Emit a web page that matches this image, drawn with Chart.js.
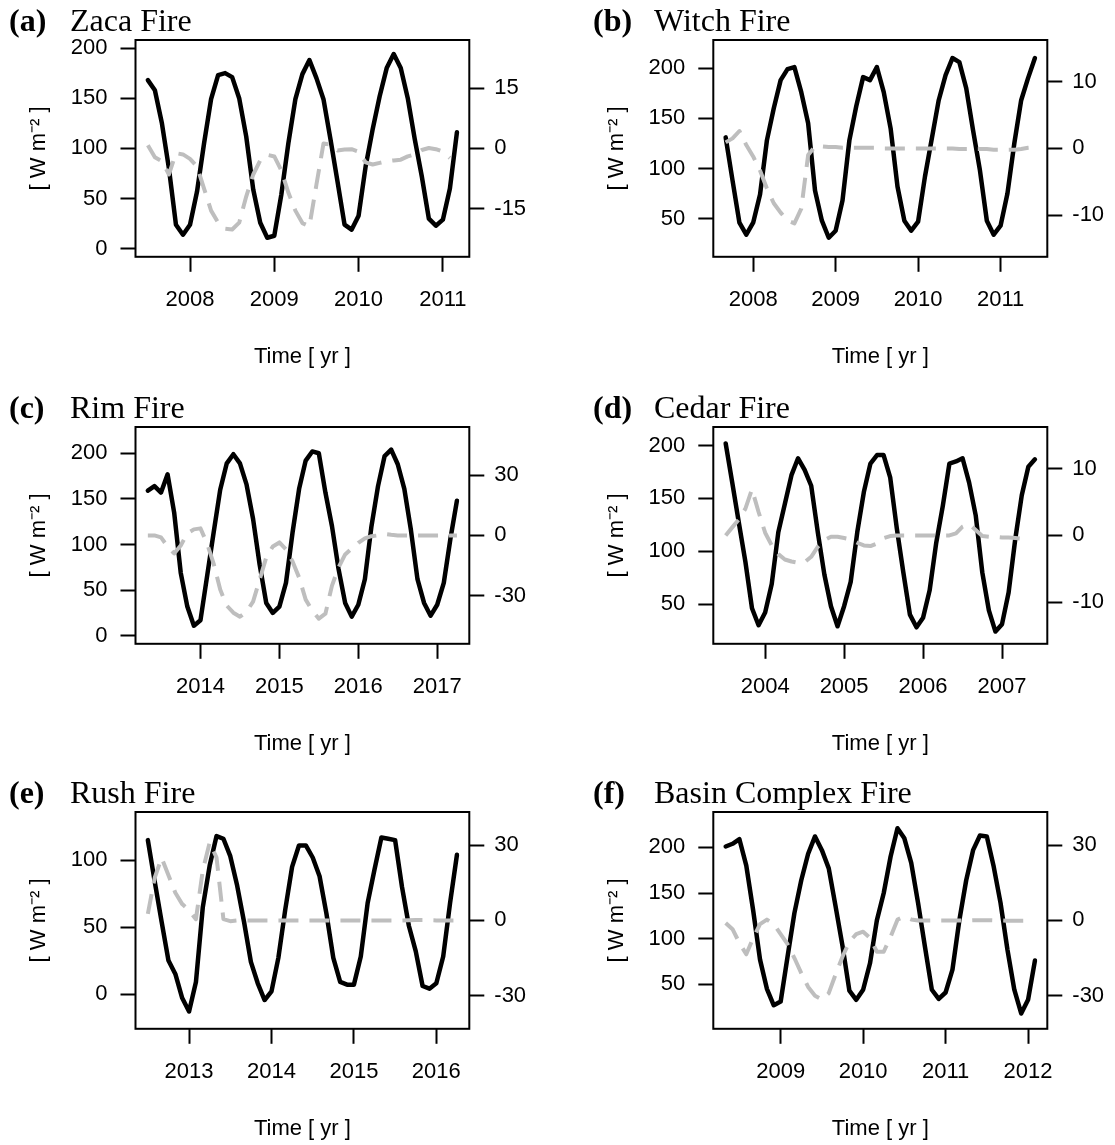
<!DOCTYPE html>
<html>
<head>
<meta charset="utf-8">
<title>Net radiation and forcing at six fire sites</title>
<script src="https://cdn.jsdelivr.net/npm/chart.js@4.4.0/dist/chart.umd.min.js"></script>
<style>
  body { margin: 0; background: #fff; }
  #figure { position: relative; width: 1115px; height: 1145px; background: #fff; overflow: hidden; }
  #figure canvas { position: absolute; }
</style>
</head>
<body>
<div id="figure">
  <canvas id="panelA" width="557" height="373" style="left:0px;top:0px"></canvas>
  <canvas id="panelB" width="558" height="373" style="left:557px;top:0px"></canvas>
  <canvas id="panelC" width="557" height="373" style="left:0px;top:387px"></canvas>
  <canvas id="panelD" width="558" height="373" style="left:557px;top:387px"></canvas>
  <canvas id="panelE" width="557" height="373" style="left:0px;top:772px"></canvas>
  <canvas id="panelF" width="558" height="373" style="left:557px;top:772px"></canvas>
</div>
<script>
// monthly series, first value at the start month (decimal year)
// black = flux [W m-2] on the left axis, grey = difference on the right axis

// (a) Zaca Fire, from Jul 2007
const zacaStart = 2007.5;
const zacaFlux = [168, 158, 125, 80, 24, 14, 24, 57, 105, 149, 173, 175, 171, 150, 112, 59, 26, 11, 13, 54, 105, 149, 174, 188, 170, 149, 109, 67, 24, 19, 33, 82, 119, 152, 180, 194, 180, 150, 109, 72, 30, 23, 29, 60, 116];
const zacaDelta = [0.8, -2.2, -3.2, -6.5, -1.2, -1.5, -2.6, -4.5, -10, -15.5, -18.5, -20, -20.2, -18.5, -12, -6.5, -3, -1.6, -2, -5.5, -11, -15.5, -18.6, -19.4, -9, 1.2, 1.0, -0.5, -0.3, -0.2, -0.8, -3.5, -4.0, -3.6, -3.2, -3.0, -2.8, -2.0, -1.5, -0.4, 0.1, -0.2, -0.8, -2.4];
const zacaFluxTicks = [0, 50, 100, 150, 200];
const zacaDeltaTicks = [-15, 0, 15];
const zacaYears = [2008, 2009, 2010, 2011];

// (b) Witch Fire, from Sep 2007
const witchStart = 2007 + 8 / 12;
const witchFlux = [131, 88, 46, 34, 46, 74, 128, 160, 188, 199, 201, 176, 145, 78, 48, 31, 38, 68, 128, 162, 191, 188, 201, 176, 140, 82, 48, 38, 47, 92, 130, 168, 193, 210, 206, 180, 138, 98, 48, 34, 43, 75, 125, 168, 190, 210];
const witchDelta = [0.9, 1.5, 2.6, 0.5, -1.2, -3.3, -6.0, -8.2, -9.6, -10.8, -11.2, -9.0, -1.0, 0.3, 0.3, 0.2, 0.2, 0.1, 0.1, 0.1, 0.1, 0.1, 0.1, 0, 0, 0, 0, 0, 0, 0, 0, 0, 0, 0, -0.1, -0.1, -0.1, -0.1, -0.1, -0.2, -0.2, -0.2, -0.2, -0.1, 0.1, 0.2];
const witchFluxTicks = [50, 100, 150, 200];
const witchDeltaTicks = [-10, 0, 10];
const witchYears = [2008, 2009, 2010, 2011];

// (c) Rim Fire, from May 2013
const rimStart = 2013 + 4 / 12;
const rimFlux = [159, 164, 157, 177, 135, 69, 32, 11, 17, 65, 113, 160, 189, 199, 189, 166, 128, 78, 36, 25, 32, 58, 113, 161, 192, 202, 200, 157, 120, 73, 36, 21, 34, 62, 120, 164, 197, 204, 188, 161, 116, 62, 36, 22, 34, 58, 106, 148];
const rimDelta = [0, 0, -1, -5.5, -9, -5, 1, 3, 3.5, -4, -14, -27, -35, -38.5, -40.5, -38, -33, -22, -11, -5.5, -3.5, -7, -13, -21, -32, -37.5, -41.5, -39, -25, -16, -9.5, -6.5, -3.7, -1.5, -0.4, 0, 0.7, 0.3, 0, 0, 0, 0, 0, 0, 0, 0, 0, 0];
const rimFluxTicks = [0, 50, 100, 150, 200];
const rimDeltaTicks = [-30, 0, 30];
const rimYears = [2014, 2015, 2016, 2017];

// (d) Cedar Fire, from Jul 2003
const cedarStart = 2003.5;
const cedarFlux = [202, 165, 127, 90, 46, 30, 42, 69, 118, 145, 172, 188, 177, 162, 118, 78, 48, 29, 48, 71, 118, 156, 183, 191, 191, 170, 122, 80, 40, 28, 37, 63, 108, 143, 183, 185, 188, 165, 134, 80, 44, 24, 31, 61, 111, 153, 180, 187];
const cedarDelta = [0, 1.2, 2.4, 4, 6.9, 3.5, 0.4, -1.5, -2.8, -3.6, -3.9, -4.1, -4.0, -3.2, -1.7, -0.7, -0.2, -0.2, -0.4, -0.6, -1.1, -1.5, -1.6, -1.2, -0.4, -0.1, 0, 0, 0, 0, 0, 0, 0, 0, 0, 0.3, 1.3, 1.7, 0.8, -0.1, -0.2, -0.2, -0.3, -0.3, -0.4, -0.5];
const cedarFluxTicks = [50, 100, 150, 200];
const cedarDeltaTicks = [-10, 0, 10];
const cedarYears = [2004, 2005, 2006, 2007];

// (e) Rush Fire, from Jul 2012
const rushStart = 2012.5;
const rushFlux = [115, 84, 54, 25, 15, -3, -13, 9, 65, 96, 118, 116, 103, 81, 54, 24, 8, -4.5, 2, 27, 63, 95, 111, 111, 102, 88, 60, 27, 9, 7, 7, 28, 68, 93, 117, 116, 115, 80, 51, 32, 6, 4, 8, 28, 68, 104];
const rushDelta = [2.6, 17, 25, 18, 11, 6.5, 4, 0.5, 20, 31, 25, 0.5, -0.3, 0, 0, 0, 0, 0, 0, 0, 0, 0, 0, 0, 0, 0, 0, 0, 0, 0, 0, 0, 0, 0, 0, 0, 0, 0, 0.1, 0.2, 0.2, 0.1, 0, 0, 0, 0];
const rushFluxTicks = [0, 50, 100];
const rushDeltaTicks = [-30, 0, 30];
const rushYears = [2013, 2014, 2015, 2016];

// (f) Basin Complex Fire, from May 2008
const basinStart = 2008 + 4 / 12;
const basinFlux = [201, 204, 209, 180, 131, 77, 45, 27, 31, 80, 128, 164, 193, 212, 197, 177, 135, 92, 43, 33, 44, 73, 120, 150, 190, 221, 210, 183, 139, 91, 44, 34, 41, 66, 120, 164, 197, 213, 212, 179, 139, 88, 44, 18, 33, 76];
const basinDelta = [-1, -3.5, -9, -13.5, -7, -1.5, 0.3, -1.5, -5.5, -9.5, -15, -21, -26.5, -30, -31.5, -29, -21.5, -14.5, -8.5, -5.5, -4.5, -7, -12.5, -12.5, -6.5, 0.3, 1.5, 0.4, 0, 0, 0, 0, 0, 0, 0, 0, 0.1, 0.1, 0.1, 0, 0, -0.1, -0.1, -0.1, -0.1];
const basinFluxTicks = [50, 100, 150, 200];
const basinDeltaTicks = [-30, 0, 30];
const basinYears = [2009, 2010, 2011, 2012];

// plot box inside each canvas (column dependent)
const CANVAS_H = 373;
const BOX_TOP = 40;
const BOX_BOTTOM = 256.8;
const boxLeft = [135.5, 156.3];
const boxRight = [469.3, 490.3];
const tagX = [9, 36];
const nameX = [70, 97];

const sansFont = { family: '"Liberation Sans", Arial, sans-serif', size: 22 };

function extend(lo, hi) {
    const d = (hi - lo) * 0.04;
    return [lo - d, hi + d];
}

function monthly(start, values) {
    return values.map((v, i) => ({ x: start + i / 12, y: v }));
}

const panelFrame = {
    id: 'panelFrame',
    afterDraw(chart, args, opts) {
        const ctx = chart.ctx;
        const a = chart.chartArea;
        ctx.save();
        ctx.strokeStyle = '#000';
        ctx.lineWidth = 2;
        ctx.strokeRect(a.left, a.top, a.right - a.left, a.bottom - a.top);
        ctx.fillStyle = '#000';
        ctx.textBaseline = 'alphabetic';
        ctx.textAlign = 'left';
        ctx.font = 'bold 32px "Liberation Serif", "Times New Roman", serif';
        ctx.fillText(opts.tag, opts.tagX, 30.5);
        ctx.font = '32px "Liberation Serif", "Times New Roman", serif';
        ctx.fillText(opts.name, opts.nameX, 30.5);
        ctx.restore();
    }
};

const panels = [
    { id: 'panelA', col: 0, tag: '(a)', name: 'Zaca Fire', start: zacaStart, flux: zacaFlux, delta: zacaDelta,
      fluxLim: [0, 200], deltaLim: [-25, 25], fluxTicks: zacaFluxTicks, deltaTicks: zacaDeltaTicks, years: zacaYears },
    { id: 'panelB', col: 1, tag: '(b)', name: 'Witch Fire', start: witchStart, flux: witchFlux, delta: witchDelta,
      fluxLim: [20, 220], deltaLim: [-15, 15], fluxTicks: witchFluxTicks, deltaTicks: witchDeltaTicks, years: witchYears },
    { id: 'panelC', col: 0, tag: '(c)', name: 'Rim Fire', start: rimStart, flux: rimFlux, delta: rimDelta,
      fluxLim: [0, 220], deltaLim: [-50, 50], fluxTicks: rimFluxTicks, deltaTicks: rimDeltaTicks, years: rimYears },
    { id: 'panelD', col: 1, tag: '(d)', name: 'Cedar Fire', start: cedarStart, flux: cedarFlux, delta: cedarDelta,
      fluxLim: [20, 210], deltaLim: [-15, 15], fluxTicks: cedarFluxTicks, deltaTicks: cedarDeltaTicks, years: cedarYears },
    { id: 'panelE', col: 0, tag: '(e)', name: 'Rush Fire', start: rushStart, flux: rushFlux, delta: rushDelta,
      fluxLim: [-20, 130], deltaLim: [-40, 40], fluxTicks: rushFluxTicks, deltaTicks: rushDeltaTicks, years: rushYears },
    { id: 'panelF', col: 1, tag: '(f)', name: 'Basin Complex Fire', start: basinStart, flux: basinFlux, delta: basinDelta,
      fluxLim: [10, 230], deltaLim: [-40, 40], fluxTicks: basinFluxTicks, deltaTicks: basinDeltaTicks, years: basinYears }
];

function makePanel(p) {
    const canvas = document.getElementById(p.id);
    const W = canvas.width;
    const L = boxLeft[p.col];
    const R = boxRight[p.col];
    const xr = extend(p.start, p.start + (p.flux.length - 1) / 12);
    const yl = extend(p.fluxLim[0], p.fluxLim[1]);
    const yr = extend(p.deltaLim[0], p.deltaLim[1]);

    const tickGrid = { drawOnChartArea: false, drawTicks: true, tickLength: 15, tickWidth: 2, tickColor: '#000' };

    return new Chart(canvas.getContext('2d'), {
        type: 'line',
        data: {
            datasets: [{
                data: monthly(p.start, p.delta),
                yAxisID: 'y1',
                order: 0,
                borderColor: '#bebebe',
                borderWidth: 4,
                borderDash: [20, 11],
                borderCapStyle: 'butt',
                borderJoinStyle: 'round',
                pointRadius: 0,
                tension: 0
            }, {
                data: monthly(p.start, p.flux),
                yAxisID: 'y',
                order: 1,
                borderColor: '#000',
                borderWidth: 4.5,
                borderCapStyle: 'round',
                borderJoinStyle: 'round',
                pointRadius: 0,
                tension: 0
            }]
        },
        options: {
            responsive: false,
            animation: false,
            devicePixelRatio: 1,
            layout: { padding: { top: BOX_TOP, left: 0, right: 0, bottom: 0 } },
            plugins: {
                legend: { display: false },
                tooltip: { enabled: false },
                panelFrame: { tag: p.tag, name: p.name, tagX: tagX[p.col], nameX: nameX[p.col] }
            },
            scales: {
                x: {
                    type: 'linear',
                    position: 'bottom',
                    min: xr[0],
                    max: xr[1],
                    afterBuildTicks: s => { s.ticks = p.years.map(v => ({ value: v })); },
                    afterFit: s => { s.height = CANVAS_H - BOX_BOTTOM; },
                    grid: tickGrid,
                    border: { display: false },
                    ticks: { color: '#000', font: sansFont, padding: 15, maxRotation: 0, autoSkip: false, callback: v => String(v) },
                    title: { display: true, text: 'Time [ yr ]', color: '#000', font: sansFont, padding: { top: 0, bottom: 3 } }
                },
                y: {
                    type: 'linear',
                    position: 'left',
                    min: yl[0],
                    max: yl[1],
                    afterBuildTicks: s => { s.ticks = p.fluxTicks.map(v => ({ value: v })); },
                    afterFit: s => { s.width = L; },
                    grid: tickGrid,
                    border: { display: false },
                    ticks: { color: '#000', font: sansFont, padding: 13, autoSkip: false, callback: v => String(v) },
                    title: { display: true, text: '[ W m\u207B\u00B2 ]', color: '#000', font: sansFont, padding: { top: L - 110, bottom: 0 } }
                },
                y1: {
                    type: 'linear',
                    position: 'right',
                    min: yr[0],
                    max: yr[1],
                    afterBuildTicks: s => { s.ticks = p.deltaTicks.map(v => ({ value: v })); },
                    afterFit: s => { s.width = W - R; },
                    grid: tickGrid,
                    border: { display: false },
                    ticks: { color: '#000', font: sansFont, padding: 10, autoSkip: false, callback: v => String(v) }
                }
            }
        },
        plugins: [panelFrame]
    });
}

document.addEventListener('DOMContentLoaded', function () {
    panels.forEach(makePanel);
});
</script>
</body>
</html>
